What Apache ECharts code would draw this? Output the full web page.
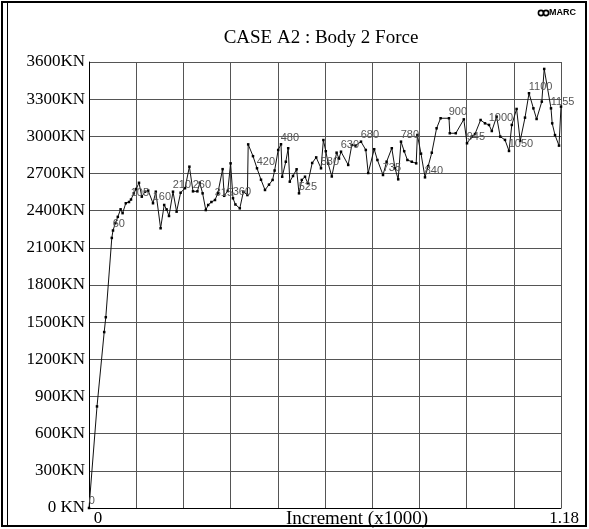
<!DOCTYPE html>
<html>
<head>
<meta charset="utf-8">
<script src="https://cdn.jsdelivr.net/npm/echarts@6/dist/echarts.min.js"></script>
<style>
html,body{margin:0;padding:0;background:#fff;}
#chart{width:589px;height:529px;}
</style>
</head>
<body>
<div id="chart"></div>
<script>
// Increment numbers (x axis, shown as x1000)
var increments = [0, 20, 38, 42, 57, 60, 66, 72, 79, 84, 92, 100, 105, 112, 118, 125, 132, 140, 148, 160, 167, 179, 188, 194, 200, 210, 219, 229, 240, 251, 260, 271, 277, 284, 292, 298, 306, 315, 322, 334, 338, 347, 354, 360, 366, 377, 386, 396, 398, 410, 420, 430, 440, 450, 459, 464, 473, 480, 483, 492, 498, 502, 510, 519, 525, 532, 540, 547, 558, 568, 580, 586, 592, 598, 607, 619, 625, 630, 648, 657, 666, 680, 692, 698, 713, 721, 735, 744, 757, 765, 773, 780, 788, 796, 807, 818, 821, 830, 840, 848, 857, 869, 879, 900, 902, 917, 937, 945, 957, 965, 979, 990, 1000, 1007, 1019, 1028, 1040, 1050, 1057, 1069, 1078, 1090, 1100, 1111, 1119, 1132, 1138, 1155, 1158, 1165, 1175, 1180];
// Body 2 force (KN)
var forces = [0, 820, 1420, 1540, 2180, 2240, 2300, 2350, 2411, 2380, 2460, 2470, 2490, 2540, 2575, 2625, 2513, 2553, 2562, 2460, 2553, 2258, 2446, 2410, 2357, 2553, 2392, 2545, 2581, 2755, 2556, 2556, 2626, 2540, 2405, 2446, 2470, 2486, 2540, 2735, 2520, 2560, 2782, 2500, 2450, 2419, 2553, 2526, 2935, 2840, 2742, 2650, 2567, 2610, 2648, 2724, 2890, 2936, 2674, 2795, 2904, 2634, 2680, 2734, 2540, 2648, 2674, 2621, 2785, 2830, 2742, 2970, 2880, 2780, 2676, 2868, 2820, 2876, 2769, 2930, 2925, 2957, 2890, 2704, 2896, 2809, 2688, 2795, 2904, 2742, 2653, 2957, 2880, 2809, 2795, 2782, 3011, 2860, 2669, 2760, 2868, 3065, 3146, 3146, 3025, 3025, 3137, 2944, 2998, 3019, 3132, 3105, 3092, 3043, 3159, 2998, 2971, 2882, 3092, 3221, 2963, 3151, 3348, 3226, 3140, 3280, 3544, 3226, 3105, 3010, 2925, 3240];
// Increments carrying a point label
var labeledIncrements = [0, 60, 105, 160, 210, 260, 315, 360, 420, 480, 525, 580, 630, 680, 735, 780, 840, 900, 945, 1000, 1050, 1100, 1155];
// Tick labels
var xTickLabels = {0: '0', 1180: '1.18'};
var yTicks = [0, 300, 600, 900, 1200, 1500, 1800, 2100, 2400, 2700, 3000, 3300, 3600];
var yTickLabels = ['0 KN', '300KN', '600KN', '900KN', '1200KN', '1500KN', '1800KN', '2100KN', '2400KN', '2700KN', '3000KN', '3300KN', '3600KN'];
var titleText = 'CASE A2 : Body 2 Force';
var xAxisName = 'Increment (x1000)';

var chart = echarts.init(document.getElementById('chart'), null, {renderer: 'canvas'});
var seriesData = increments.map(function (x, i) {
  return {
    value: [x, forces[i]],
    label: {show: labeledIncrements.indexOf(x) >= 0}
  };
});
var serif = '"Liberation Serif", "DejaVu Serif", serif';
var option = {
  backgroundColor: '#fff',
  animation: false,
  grid: {left: 89, right: 28, top: 62, bottom: 21, containLabel: false},
  xAxis: {
    type: 'value', min: 0, max: 1180, interval: 118,
    axisLine: {show: true, lineStyle: {color: '#000', width: 1}},
    axisTick: {show: false},
    splitLine: {show: true, lineStyle: {color: '#555', width: 1}},
    axisLabel: {
      show: true, margin: 2,
      fontFamily: serif, fontSize: 17, color: '#000',
      formatter: function (v) {
        if (v === 0) return '{a|' + xTickLabels[0] + '}';
        if (v === 1180) return '{b|' + xTickLabels[1180] + '}';
        return '';
      },
      rich: {
        a: {fontFamily: serif, fontSize: 17, color: '#000', padding: [0, 0, 0, 18]},
        b: {fontFamily: serif, fontSize: 17, color: '#000', padding: [0, 0, 0, 6]}
      }
    }
  },
  yAxis: {
    type: 'value', min: 0, max: 3600, interval: 300,
    axisLine: {show: true, lineStyle: {color: '#000', width: 1}},
    axisTick: {show: false},
    splitLine: {show: true, lineStyle: {color: '#555', width: 1}},
    axisLabel: {
      margin: 4, fontFamily: serif, fontSize: 17, color: '#000',
      formatter: function (v) { return yTickLabels[yTicks.indexOf(v)]; }
    }
  },
  series: [{
    type: 'line',
    data: seriesData,
    showSymbol: true,
    symbol: 'rect',
    symbolSize: 2.5,
    itemStyle: {color: '#000'},
    lineStyle: {color: '#111', width: 1},
    label: {
      position: [1, -11],
      fontFamily: '"Liberation Sans", Arial, sans-serif',
      fontSize: 11,
      color: '#555',
      formatter: function (p) { return String(p.value[0]); }
    },
    labelLayout: {hideOverlap: false},
    z: 3
  }],
  graphic: [
    {type: 'rect', shape: {x: 2, y: 2, width: 584, height: 524}, style: {fill: 'none', stroke: '#000', lineWidth: 2}, silent: true},
    {type: 'line', shape: {x1: 7.5, y1: 2, x2: 7.5, y2: 526}, style: {stroke: '#000', lineWidth: 1}, silent: true},
    {type: 'text', x: 321, y: 38, style: {text: titleText, font: '19px ' + serif, fill: '#000', textAlign: 'center', textVerticalAlign: 'middle'}},
    {type: 'text', x: 357, y: 519, style: {text: xAxisName, font: '19px ' + serif, fill: '#000', textAlign: 'center', textVerticalAlign: 'middle'}},
    {type: 'circle', shape: {cx: 541, cy: 13, r: 2.6}, style: {fill: 'none', stroke: '#000', lineWidth: 1.6}},
    {type: 'circle', shape: {cx: 546, cy: 13, r: 2.6}, style: {fill: 'none', stroke: '#000', lineWidth: 1.6}},
    {type: 'text', x: 549, y: 13, style: {text: 'MARC', font: 'bold 9px "Liberation Sans", Arial, sans-serif', fill: '#000', textAlign: 'left', textVerticalAlign: 'middle'}}
  ]
};
chart.setOption(option);
</script>
</body>
</html>
